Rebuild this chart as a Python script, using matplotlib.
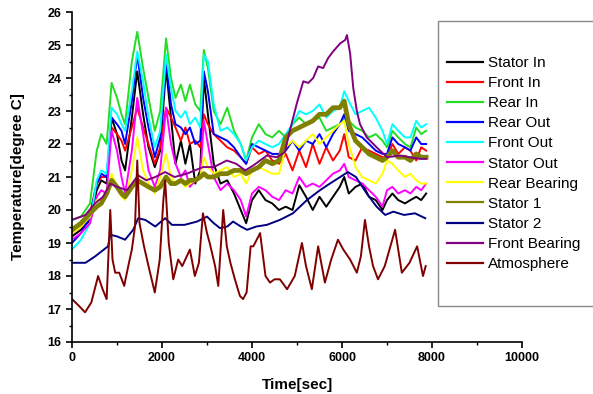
import matplotlib
matplotlib.use("Agg")
import matplotlib.pyplot as plt
from matplotlib.patches import Rectangle
from matplotlib.ticker import MultipleLocator

plt.rcParams['font.family'] = ['Liberation Sans', 'DejaVu Sans']

# common time grid for the upper bundle of sensors [sec]
t = [0, 200, 400, 550, 650, 770, 880, 1000, 1100, 1180,
     1330, 1450, 1580, 1700, 1840, 1960, 2090, 2200, 2300, 2420,
     2520, 2620, 2740, 2850, 2930, 3020, 3150, 3300, 3450, 3600,
     3750, 3870, 4000, 4150, 4300, 4450, 4600, 4750, 4900, 5050,
     5200, 5350, 5500, 5650, 5800, 5950, 6050, 6150, 6300, 6450,
     6600, 6750, 6900, 7000, 7120, 7250, 7400, 7520, 7650, 7760,
     7870]

stator_in = [19.2, 19.4, 19.7, 20.6, 20.9, 20.8, 22.8, 22.3, 21.5, 21.2,
             22.8, 24.2, 22.9, 21.9, 21.3, 21.8, 24.3, 22.8, 21.4, 22.1,
             21.4, 22.0, 20.8, 21.2, 24.0, 22.9, 21.4, 20.8, 20.9, 20.5,
             20.0, 19.6, 20.3, 20.6, 20.3, 20.2, 20.0, 20.1, 20.0, 20.75,
             20.4, 20.0, 20.4, 20.1, 20.4, 20.7, 21.0, 20.5, 20.7, 20.8,
             20.4, 20.3, 20.0, 20.3, 20.5, 20.3, 20.2, 20.3, 20.4, 20.3,
             20.5]
front_in = [19.3, 19.5, 19.9, 20.8, 21.0, 21.0, 22.5, 22.3, 22.1, 21.8,
            22.5, 23.1, 22.5, 22.0, 21.4, 21.9, 23.1, 22.8, 22.5, 22.1,
            22.5, 22.0, 22.1, 21.9, 22.9, 22.6, 22.3, 22.1, 21.9, 21.8,
            21.6, 21.4, 21.9, 21.7, 21.8, 21.5, 21.4, 21.7, 21.2, 21.8,
            21.3, 22.0, 21.4, 21.9, 21.5, 21.8, 22.3, 21.6, 21.5, 21.9,
            21.8, 21.7, 21.6, 21.6, 22.0, 21.7, 21.9, 21.8, 21.5, 21.9,
            21.8]
rear_in = [19.7, 19.8, 20.2, 21.8, 22.3, 22.0, 23.85, 23.4, 22.9, 22.6,
           24.5, 25.4, 24.3, 23.4, 22.4, 23.0, 25.2, 24.0, 23.4, 23.8,
           23.3, 23.8, 23.2, 23.0, 24.85, 24.3, 23.0, 22.6, 23.1, 22.4,
           22.0, 21.5, 22.2, 22.6, 22.3, 22.2, 22.4, 22.2, 22.6, 22.8,
           22.6, 22.7, 22.8, 22.4, 22.5, 22.6, 22.8, 22.7, 22.5, 22.4,
           22.2, 22.3, 22.1, 21.9, 22.4, 22.2, 22.0, 21.9, 22.5, 22.3,
           22.4]
rear_out = [19.0, 19.3, 19.8, 20.8, 21.1, 21.0, 22.8, 22.6, 22.4, 22.0,
            23.3, 24.7, 23.4, 22.5, 21.6, 22.2, 24.5, 23.2, 22.6, 22.5,
            22.3, 22.5, 22.0, 22.1, 24.2, 23.6, 22.3, 22.2, 22.1, 21.9,
            21.6, 21.4, 22.0, 21.9, 21.8, 21.7, 21.7, 21.8, 22.1, 21.8,
            22.1, 22.0, 22.3, 21.9, 22.3, 22.6, 22.9, 22.4, 22.3, 22.2,
            22.0, 21.8, 21.7, 21.7, 22.2, 22.0, 21.9, 21.8, 22.2, 22.0,
            22.0]
front_out = [18.8, 19.1, 19.6, 20.9, 21.2, 21.1, 23.1, 22.9, 22.6, 22.4,
             23.6, 24.8, 23.9, 22.8, 21.9, 22.4, 24.7, 23.7, 23.0, 22.8,
             23.0, 22.6, 22.8, 22.5, 24.7, 24.5, 23.2, 22.4, 22.5, 22.3,
             22.0, 21.5, 21.9, 22.1, 22.0, 21.9, 22.0, 22.3, 22.6, 23.0,
             22.9, 23.0, 23.2, 22.8, 23.0, 23.1, 23.6, 23.3, 22.9, 23.0,
             23.1, 22.8, 22.4, 22.0, 22.6, 22.4, 22.2, 22.2, 22.7, 22.5,
             22.6]
stator_out = [19.1, 19.3, 19.6, 20.4, 20.6, 20.5, 22.4, 21.8, 21.0, 20.5,
              21.8, 23.4, 22.3, 21.2, 20.7, 21.2, 23.1, 22.0, 21.4, 21.0,
              21.2, 20.7, 20.9, 21.0, 22.7, 22.0, 21.0, 20.6, 20.8, 20.6,
              20.3, 19.8, 20.5, 20.7, 20.6, 20.4, 20.3, 20.6, 20.5, 21.0,
              20.7, 20.8, 20.7, 20.9, 21.1, 21.2, 21.4, 21.0, 20.9, 20.8,
              20.6, 20.4, 20.1, 20.6, 20.7, 20.5, 20.6, 20.5, 20.7, 20.6,
              20.8]
rear_bearing = [19.3, 19.5, 19.8, 20.3, 20.3, 20.4, 21.1, 20.7, 20.4, 20.3,
                21.2, 22.2, 21.2, 20.8, 20.5, 21.0, 21.7, 21.0, 20.8, 20.9,
                20.7, 20.8, 20.9, 21.0, 21.6, 21.3, 21.1, 21.2, 21.3, 21.0,
                21.1, 20.8, 21.2, 21.3, 21.2, 21.1, 21.1, 21.9, 22.1, 21.9,
                22.1, 22.3, 22.0, 22.2, 22.4, 22.6, 22.7, 22.0, 21.3, 21.0,
                20.9, 20.8, 21.1, 21.5, 21.4, 21.2, 21.0, 21.1, 20.9, 20.8,
                20.8]
stator_1 = [19.4, 19.6, 19.9, 20.1, 20.2, 20.5, 20.9, 20.7, 20.5, 20.4,
            20.7, 20.9, 20.8, 20.7, 20.6, 20.7, 21.0, 20.8, 20.8, 20.9,
            20.8, 20.9, 20.9, 21.0, 21.1, 21.0, 21.0, 21.1, 21.1, 21.2,
            21.2, 21.1, 21.2, 21.3, 21.5, 21.4, 21.5, 22.2, 22.4, 22.5,
            22.6, 22.7, 22.9, 22.9, 23.1, 23.1, 23.3, 22.6, 22.1, 21.9,
            21.7, 21.6, 21.5, 21.6, 21.8, 21.6, 21.6, 21.5, 21.7, 21.6,
            21.6]

# stator 2 (smooth)
s2_t = [0, 300, 520, 800, 850, 1000, 1180, 1360, 1470, 1630,
        1850, 2070, 2220, 2500, 2780, 3000, 3150, 3290, 3450, 3580,
        3750, 3890, 4100, 4330, 4620, 4910, 5220, 5510, 5730, 5960,
        6130, 6310, 6550, 6770, 6960, 7140, 7380, 7620, 7850]
stator_2 = [18.4, 18.4, 18.6, 18.9, 19.25, 19.2, 19.1, 19.4, 19.75, 19.7,
            19.5, 19.75, 19.55, 19.55, 19.65, 19.8, 19.6, 19.45, 19.5, 19.65,
            19.5, 19.4, 19.5, 19.55, 19.7, 19.9, 20.3, 20.6, 20.8, 21.0,
            21.15, 21.0, 20.5, 20.1, 19.85, 19.95, 19.85, 19.9, 19.75]

# front bearing
fb_t = [0, 300, 510, 690, 850, 1000, 1220, 1470, 1650, 1850,
        2070, 2280, 2550, 2910, 3150, 3440, 3650, 3850, 4030, 4330,
        4550, 4730, 4840, 5000, 5140, 5250, 5360, 5470, 5580, 5690,
        5800, 5960, 6070, 6110, 6180, 6250, 6330, 6400, 6550, 6770,
        7000, 7290, 7510, 7730, 7870]
front_bearing = [19.7, 19.85, 20.2, 20.4, 20.8, 20.7, 20.6, 21.05, 20.9, 21.0,
                 21.15, 21.0, 21.1, 21.3, 21.3, 21.5, 21.4, 21.2, 21.35, 21.65,
                 21.6, 21.75, 22.4, 23.25, 23.9, 23.85, 24.0, 24.35, 24.3, 24.6,
                 24.8, 25.05, 25.15, 25.3, 24.75, 23.7, 23.0, 22.6, 22.2, 21.9,
                 21.6, 21.65, 21.6, 21.55, 21.55]

# atmosphere
at_t = [0, 150, 290, 430, 580, 680, 770, 850, 900, 960,
        1050, 1160, 1250, 1330, 1400, 1450, 1500, 1600, 1700, 1840,
        1950, 2030, 2070, 2150, 2250, 2360, 2450, 2620, 2730, 2820,
        2910, 3000, 3060, 3180, 3250, 3360, 3440, 3520, 3620, 3730,
        3800, 3880, 3970, 4030, 4180, 4300, 4400, 4500, 4620, 4780,
        4950, 5110, 5200, 5330, 5470, 5620, 5760, 5910, 6030, 6180,
        6330, 6420, 6510, 6600, 6690, 6800, 6950, 7180, 7330, 7500,
        7670, 7800, 7860]
atmosphere = [17.3, 17.1, 16.9, 17.2, 18.0, 17.6, 17.3, 20.0, 18.5, 18.1,
              18.1, 17.7, 18.3, 18.8, 19.5, 21.5, 19.6, 18.9, 18.3, 17.5,
              18.5, 20.3, 20.9, 19.0, 17.9, 18.5, 18.3, 18.8, 18.0, 18.4,
              19.9, 19.3, 19.0, 18.3, 17.7, 20.0, 18.9, 18.4, 17.9, 17.4,
              17.3, 17.5, 18.9, 18.9, 19.3, 18.0, 17.8, 17.9, 17.9, 17.6,
              18.0, 19.0, 18.3, 17.6, 18.9, 17.8, 18.5, 19.1, 18.8, 18.5,
              18.1, 18.6, 19.7, 18.9, 18.3, 17.9, 18.3, 19.4, 18.1, 18.4,
              18.9, 18.0, 18.3]

fig = plt.figure(figsize=(5.93, 3.94), dpi=100)
ax = fig.add_axes([72/593, 1-342/394, 450/593, 330/394])

lw = 1.4
ax.plot(t, stator_in, color='#000000', lw=lw, label='Stator In')
ax.plot(t, front_in, color='#FF0000', lw=lw, label='Front In')
ax.plot(t, rear_in, color='#22DD22', lw=lw, label='Rear In')
ax.plot(t, rear_out, color='#0000FF', lw=lw, label='Rear Out')
ax.plot(t, front_out, color='#00FFFF', lw=lw, label='Front Out')
ax.plot(t, stator_out, color='#FF00FF', lw=lw, label='Stator Out')
ax.plot(t, rear_bearing, color='#FFFF00', lw=lw, label='Rear Bearing')
ax.plot(t, stator_1, color='#808000', lw=3.4, label='Stator 1')
ax.plot(s2_t, stator_2, color='#000080', lw=lw, label='Stator 2')
ax.plot(fb_t, front_bearing, color='#800080', lw=lw, label='Front Bearing')
ax.plot(at_t, atmosphere, color='#800000', lw=lw, label='Atmosphere')

ax.set_xlim(0, 10000)
ax.set_ylim(16, 26)
ax.xaxis.set_major_locator(MultipleLocator(2000))
ax.xaxis.set_minor_locator(MultipleLocator(1000))
ax.yaxis.set_major_locator(MultipleLocator(1))
ax.yaxis.set_minor_locator(MultipleLocator(0.5))
ax.spines['top'].set_visible(False)
ax.spines['right'].set_visible(False)
for s in ['left', 'bottom']:
    ax.spines[s].set_linewidth(1.2)
ax.tick_params(which='major', direction='out', length=4, width=1.2, labelsize=9)
ax.tick_params(which='minor', direction='out', length=2.5, width=1)
for lab in ax.get_xticklabels() + ax.get_yticklabels():
    lab.set_fontweight('bold')

ax.set_xlabel('Time[sec]', fontsize=11, fontweight='bold', labelpad=10)
ax.set_ylabel('Temperature[degree C]', fontsize=11, fontweight='bold', labelpad=16)

# legend frame, runs off the right edge like the original
fig.patches.append(Rectangle((438/593, 1-306/394), 160/593, 285/394,
                             transform=fig.transFigure, fill=False,
                             edgecolor='#888888', lw=1))
handles, labels = ax.get_legend_handles_labels()
leg = fig.legend(handles, labels, loc='upper left',
                 bbox_to_anchor=(447/593, 1-56/394), frameon=False,
                 fontsize=11, handlelength=2.35, handletextpad=0.35,
                 labelspacing=0.4, borderpad=0, borderaxespad=0)
for h in leg.legend_handles:
    h.set_linewidth(1.6)

fig.savefig('out.png', dpi=100)
